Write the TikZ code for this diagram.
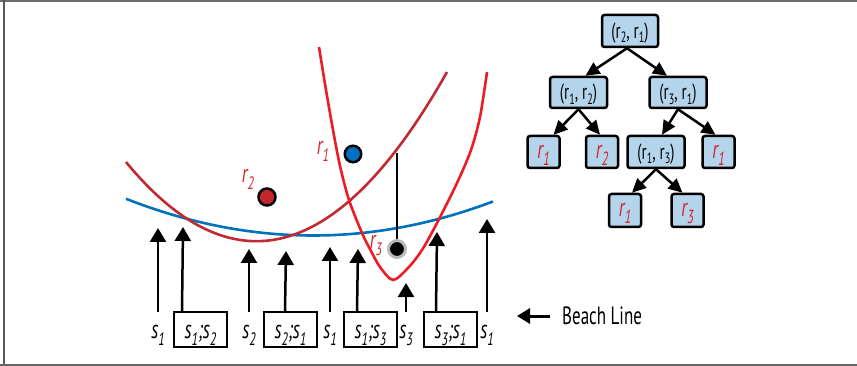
\documentclass[tikz,border=0pt]{standalone}
\usepackage{fontspec}
\setmainfont{PT Sans}[FakeStretch=0.68]
\usetikzlibrary{arrows.meta}
\definecolor{cblue}{RGB}{0,114,188}
\definecolor{cdred}{RGB}{192,42,48}
\definecolor{cbred}{RGB}{237,28,36}
\definecolor{labred}{RGB}{212,36,44}
\definecolor{dotblue}{RGB}{0,112,192}
\definecolor{dotred}{RGB}{193,39,45}
\definecolor{treeblue}{RGB}{180,212,236}
\newcommand\sbB[1]{\raisebox{-7pt}{\fontsize{18}{18}\selectfont #1}}
\newcommand\sbT[1]{\raisebox{-4.5pt}{\fontsize{15}{15}\selectfont #1}}
\newcommand\sbL[1]{\raisebox{-7pt}{\fontsize{19}{19}\selectfont #1}}
\tikzset{
  lab/.style={font=\fontsize{26}{26}\selectfont\itshape, inner sep=0pt, anchor=base, text height=13pt, text depth=6pt},
  rlab/.style={font=\fontsize{26}{26}\selectfont\itshape, inner sep=0pt, anchor=base, text=labred},
  sbox/.style={draw, line width=2pt, minimum width=53pt, minimum height=35pt, inner sep=0pt, text height=18pt, text depth=0pt, font=\fontsize{26}{26}\selectfont\itshape},
  upar/.style={line width=2.5pt, -{Triangle[width=16pt,length=14pt]}},
  tarr/.style={line width=2.5pt, -{Triangle[width=13pt,length=14pt]}},
  tn/.style={draw, line width=2.5pt, rounded corners=2.5pt, fill=treeblue, inner sep=0pt, minimum height=31pt, minimum width=57pt, text height=15pt, text depth=0pt, font=\fontsize{22}{22}\selectfont},
  leaf/.style={tn, minimum width=32pt, minimum height=32pt, text height=13pt, font=\fontsize{26}{26}\selectfont\itshape, text=labred},
  curve/.style={line width=2.6pt},
  dot/.style={circle, draw=black, line width=2.5pt, inner sep=0pt, minimum size=16.5pt}
}
\begin{document}
\begin{tikzpicture}[x=1pt,y=-1pt]
\useasboundingbox (0,0) rectangle (857,366);
% frame
\draw[gray!85!black, line width=2pt] (0,1) -- (857,1);
\draw[gray!70!black, line width=2pt] (3.5,0) -- (3.5,365);
\draw[gray!80!black, line width=2pt] (0,364.5) -- (857,364.5);

% curves
\draw[curve, cblue] plot[domain=126:493, samples=80] (\x, {235.5 - 0.105*((\x-313)/10)^2});
\draw[curve, cdred] plot[domain=126:447, samples=80] (\x, {241 + 0.0596*(\x-250) - 0.4657*((\x-250)/10)^2});
\draw[curve, cbred] plot[smooth] coordinates {(319,47) (326,90) (333,130) (340,166) (349,200) (362,233) (371,251) (380,267) (393,280) (408,268) (422,250) (437,223) (457,183) (471,150) (480,117) (487,72)};

% sites
\node[dot, fill=dotblue] (p1) at (353,154) {};
\node[dot, fill=dotred, minimum size=17pt] (p2) at (267,197) {};
\node[circle, fill=black, draw=gray!55, line width=3pt, inner sep=0pt, minimum size=17pt] (p3) at (397,249) {};
\coordinate (vtop) at (397,153);
\draw[line width=2.2pt] (p3.north) -- (vtop);
\node[rlab] (lr1) at (323,155) {r\sbB{1}};
\node[rlab] (lr2) at (248,183) {r\sbB{2}};
\node[rlab] (lr3) at (376,248) {r\sbB{3}};

% bottom labels and boxes
\node[lab] (l1) at (158,338) {s\sbB{1}};
\node[sbox] (b1) at (200.5,329.5) {s\sbB{1};s\sbB{2}};
\node[lab] (l2) at (249,338) {s\sbB{2}};
\node[sbox] (b2) at (290.5,329.5) {s\sbB{2};s\sbB{1}};
\node[lab] (l3) at (330,338) {s\sbB{1}};
\node[sbox] (b3) at (370.5,329.5) {s\sbB{1};s\sbB{3}};
\node[lab] (l4) at (406,338) {s\sbB{3}};
\node[sbox] (b4) at (450.5,329.5) {s\sbB{3};s\sbB{1}};
\node[lab] (l5) at (487,338) {s\sbB{1}};

\coordinate (t1) at (158,228);
\coordinate (t2) at (183,227);
\coordinate (t3) at (249,249);
\coordinate (t4) at (286,251);
\coordinate (t5) at (330,247);
\coordinate (t6) at (358,249);
\coordinate (t7) at (406,283);
\coordinate (t8) at (437,232);
\coordinate (t9) at (487,219);

\draw[upar, shorten <=13pt] (l1.north) -- (t1);
\draw[upar] ([xshift=9pt]b1.north west) -- (t2);
\draw[upar, shorten <=13pt] (l2.north) -- (t3);
\draw[upar] ([xshift=22pt]b2.north west) -- (t4);
\draw[upar, shorten <=13pt] (l3.north) -- (t5);
\draw[upar] ([xshift=14pt]b3.north west) -- (t6);
\draw[upar, shorten <=13pt] (l4.north) -- (t7);
\draw[upar] ([xshift=13pt]b4.north west) -- (t8);
\draw[upar, shorten <=13pt] (l5.north) -- (t9);

% beach line
\node[anchor=west, inner sep=0pt, font=\fontsize{25}{25}\selectfont] (beach) at (562,316) {Beach Line};
\coordinate (bt) at (517,316);
\draw[line width=3pt, -{Triangle[width=15pt,length=13pt]}, shorten <=12pt] (beach.west) -- (bt);

% tree
\node[tn, minimum width=56pt, minimum height=32pt] (root) at (630,31) {(r\sbT{2}, r\sbT{1})};
\node[tn] (n12) at (578.5,92.5) {(r\sbT{1}, r\sbT{2})};
\node[tn] (n31) at (678,92.5) {(r\sbT{3}, r\sbT{1})};
\node[leaf] (la) at (543.5,152) {r\sbL{1}};
\node[leaf] (lb) at (602,152) {r\sbL{2}};
\node[tn, minimum height=32pt] (n13) at (656,152) {(r\sbT{1}, r\sbT{3})};
\node[leaf] (lc) at (718.5,152) {r\sbL{1}};
\node[leaf, minimum height=33pt] (ld) at (625,210.5) {r\sbL{1}};
\node[leaf, minimum height=33pt] (le) at (687.5,210.5) {r\sbL{3}};

\draw[tarr] ([xshift=-3pt]root.south) -- ([xshift=7pt]n12.north);
\draw[tarr] ([xshift=-3pt]root.south) -- ([xshift=-11pt]n31.north);
\draw[tarr] (n12.south) -- ([xshift=10pt]la.north);
\draw[tarr] (n12.south) -- ([xshift=-2pt]lb.north);
\draw[tarr] (n31.south) -- ([xshift=6pt]n13.north);
\draw[tarr] (n31.south) -- ([xshift=-3pt]lc.north);
\draw[tarr] (n13.south) -- ([xshift=7pt]ld.north);
\draw[tarr] (n13.south) -- ([xshift=-5pt]le.north);
\end{tikzpicture}
\end{document}
